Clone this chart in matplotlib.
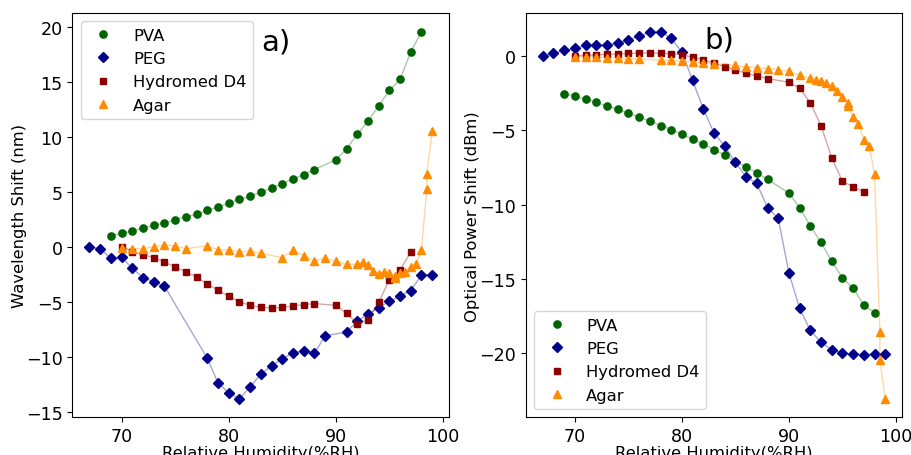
import numpy as np
import matplotlib.pyplot as plt

# relative humidity steps (%RH)
rh_pva = [69, 70, 71, 72, 73, 74, 75, 76, 77, 78, 79, 80, 81, 82, 83, 84, 85, 86, 87, 88,
          90, 91, 92, 93, 94, 95, 96, 97, 98]
rh_peg_a = [67, 68, 69, 70, 71, 72, 73, 74, 78, 79, 80, 81, 82, 83, 84, 85, 86, 87, 88, 89,
            91, 92, 93, 94, 95, 96, 97, 98, 99]
rh_peg_b = list(range(67, 100))
rh_hyd = [70, 71, 72, 73, 74, 75, 76, 77, 78, 79, 80, 81, 82, 83, 84, 85, 86, 87, 88,
          90, 91, 92, 93, 94, 95, 96, 97]
rh_agar = [70, 71, 72, 73, 74, 75, 76, 78, 79, 80, 81, 82, 83, 85, 86, 87, 88, 89, 90, 91, 92,
           92.5, 93, 93.5, 94, 94.5, 95, 95.5, 95.5, 96, 96.5, 97, 97.5, 98, 98.5, 98.5, 99]

# a) wavelength shift (nm)
wl_pva = [1.0, 1.2, 1.42, 1.69, 1.94, 2.15, 2.42, 2.73, 2.94, 3.3, 3.6, 3.94, 4.3, 4.57, 4.96,
          5.33, 5.73, 6.15, 6.55, 7.0, 7.9, 8.9, 10.2, 11.4, 12.8, 14.2, 15.2, 17.7, 19.55]
wl_peg = [0, -0.2, -1.06, -0.97, -1.97, -2.82, -3.2, -3.6, -10.15, -12.4, -13.27, -13.85, -12.76,
          -11.6, -10.85, -10.2, -9.67, -9.45, -9.7, -8.12, -7.76, -6.79, -6.12, -5.55, -4.97,
          -4.49, -4.0, -2.58, -2.58]
wl_hyd = [0, -0.45, -0.73, -1.0, -1.4, -1.85, -2.3, -2.76, -3.4, -3.97, -4.52, -5.0, -5.34, -5.52,
          -5.58, -5.52, -5.4, -5.27, -5.18, -5.34, -6.06, -7.0, -6.67, -5.06, -3.03, -2.12, -0.49]
wl_agar = [-0.09, -0.18, -0.18, 0.0, 0.15, 0.06, -0.18, 0.06, -0.3, -0.3, -0.45, -0.42, -0.6,
           -1.0, -0.3, -0.85, -1.3, -1.06, -1.31, -1.61, -1.61, -1.4, -1.7, -2.22, -2.52, -2.31,
           -2.36, -2.82, -2.7, -2.36, -2.27, -1.82, -1.58, -0.34, 5.27, 6.64, 10.5]

# b) optical power shift (dBm)
op_pva = [-2.53, -2.71, -2.91, -3.13, -3.36, -3.58, -3.85, -4.12, -4.37, -4.68, -4.95, -5.27,
          -5.6, -5.94, -6.3, -6.68, -7.13, -7.46, -7.87, -8.31, -9.23, -10.21, -11.44, -12.55,
          -13.83, -14.93, -15.64, -16.77, -17.28]
op_peg = [0, 0.18, 0.38, 0.52, 0.72, 0.72, 0.74, 0.9, 1.06, 1.35, 1.6, 1.64, 1.19, 0.27, -1.65,
          -3.56, -5.18, -6.07, -7.17, -8.14, -8.58, -10.22, -10.92, -14.6, -17.0, -18.47, -19.28,
          -19.77, -20.0, -20.07, -20.1, -20.07, -20.07]
op_hyd = [0, 0.04, 0.07, 0.11, 0.13, 0.18, 0.2, 0.2, 0.18, 0.16, 0.09, -0.09, -0.25, -0.49,
          -0.72, -0.94, -1.16, -1.34, -1.52, -1.77, -2.17, -3.16, -4.68, -6.86, -8.43, -8.81, -9.15]
op_agar = [-0.04, -0.04, -0.07, -0.13, -0.13, -0.2, -0.2, -0.29, -0.29, -0.34, -0.42, -0.47,
           -0.51, -0.63, -0.74, -0.78, -0.85, -0.92, -1.04, -1.3, -1.49, -1.6, -1.68, -1.84,
           -2.04, -2.33, -2.77, -3.14, -3.36, -4.08, -4.57, -5.65, -6.03, -7.96, -18.6, -20.5, -23.09]

names = ["PVA", "PEG", "Hydromed D4", "Agar"]
colors = ["darkgreen", "darkblue", "darkred", "darkorange"]
markers = ["o", "D", "s", "^"]
sizes = [5.2, 5.6, 5.0, 5.6]

fig = plt.figure(figsize=(9.12, 4.56), dpi=100)
ax1 = fig.add_axes([0.0793, 0.0827, 0.4134, 0.886])
ax2 = fig.add_axes([0.5764, 0.0827, 0.4130, 0.886])

left = [(rh_pva, wl_pva), (rh_peg_a, wl_peg), (rh_hyd, wl_hyd), (rh_agar, wl_agar)]
right = [(rh_pva, op_pva), (rh_peg_b, op_peg), (rh_hyd, op_hyd), (rh_agar, op_agar)]

for ax, sets in [(ax1, left), (ax2, right)]:
    for (x, y), nm, c, m, s in zip(sets, names, colors, markers, sizes):
        ax.plot(x, y, '-', color=c, alpha=0.35, lw=1)
        ax.plot(x, y, linestyle='none', marker=m, color=c, ms=s, label=nm)
    ax.set_xlabel("Relative Humidity(%RH)", fontsize=11.8, labelpad=0)
    ax.tick_params(labelsize=12.6)
    ax.set_xticks([70, 80, 90, 100])

ax1.set_yticks([-15, -10, -5, 0, 5, 10, 15, 20])
ax2.set_yticks([-20, -15, -10, -5, 0])
ax1.set_ylabel("Wavelength Shift (nm)", fontsize=11.8, labelpad=-1)
ax2.set_ylabel("Optical Power Shift (dBm)", fontsize=11.8, labelpad=-1)

ax1.text(0.502, 0.931, "a)", transform=ax1.transAxes, fontsize=21, ha='left', va='center')
ax2.text(0.474, 0.936, "b)", transform=ax2.transAxes, fontsize=21, ha='left', va='center')

ax1.legend(loc='upper left', fontsize=11.8)
ax2.legend(loc='lower left', fontsize=11.8)

plt.savefig('out.png', dpi=100)
